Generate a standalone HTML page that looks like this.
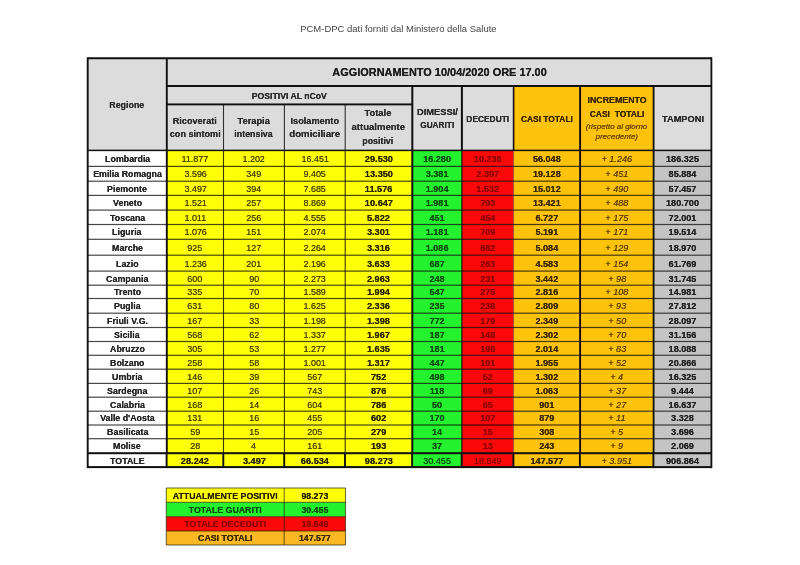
<!DOCTYPE html>
<html><head><meta charset="utf-8"><title>PCM-DPC</title>
<style>
html,body{margin:0;padding:0;background:#fff;}
body{width:800px;height:565px;position:relative;overflow:hidden;font-family:"Liberation Sans",sans-serif;}
svg{position:absolute;left:0;top:0;}
#tx{position:absolute;left:0;top:0;width:800px;height:565px;will-change:transform;}
.x{position:absolute;height:14.0px;line-height:14.0px;text-align:center;white-space:nowrap;}
.x span{display:inline-block;text-shadow:0 0 .6px currentColor;}
.h{font-size:9.0px;font-weight:bold;font-style:normal;color:#2a2a2a;}
.hu{font-size:8.4px;font-weight:bold;font-style:normal;color:#2a2a2a;}
.ttl{font-size:11.7px;font-weight:bold;font-style:normal;color:#1c1c1c;}
.hs{font-size:7.4px;font-weight:normal;font-style:italic;color:#6a4600;}
.rg{font-size:8.9px;font-weight:bold;font-style:normal;color:#262626;}
.n{font-size:9.3px;font-weight:normal;font-style:normal;color:#4c4806;}
.nb{font-size:9.1px;font-weight:bold;font-style:normal;color:#2b2800;}
.g{font-size:9.1px;font-weight:bold;font-style:normal;color:#0c4f10;}
.r{font-size:9.1px;font-weight:bold;font-style:normal;color:#8e0505;}
.o{font-size:9.1px;font-weight:bold;font-style:normal;color:#3a2800;}
.i{font-size:9.4px;font-weight:normal;font-style:italic;color:#5e4004;}
.t{font-size:9.1px;font-weight:bold;font-style:normal;color:#222;}
.s{font-size:8.8px;font-weight:bold;font-style:normal;color:#222;}
.pt{font-size:9.3px;font-weight:normal;font-style:normal;color:#444;}
.ho{color:#3a2600;}
.nw{font-weight:normal;}
.pt span{text-shadow:none;}
.sy{color:#2b2800;} .sg{color:#0c4f10;} .sr{color:#8e0505;} .so{color:#3a2800;}
</style></head><body>
<svg width="800" height="565" viewBox="0 0 800 565">
<rect x="87.70" y="58.25" width="623.70" height="92.15" fill="#dcdcdc"/>
<rect x="513.60" y="86.00" width="140.00" height="64.40" fill="#fdc20a"/>
<rect x="87.70" y="150.40" width="79.10" height="16.00" fill="#ffffff"/>
<rect x="166.80" y="150.40" width="56.70" height="16.00" fill="#ffff08"/>
<rect x="223.50" y="150.40" width="60.90" height="16.00" fill="#ffff08"/>
<rect x="284.40" y="150.40" width="60.80" height="16.00" fill="#ffff08"/>
<rect x="345.20" y="150.40" width="67.10" height="16.00" fill="#ffff08"/>
<rect x="412.30" y="150.40" width="49.60" height="16.00" fill="#24f22e"/>
<rect x="461.90" y="150.40" width="51.70" height="16.00" fill="#fb0808"/>
<rect x="513.60" y="150.40" width="66.50" height="16.00" fill="#fdc20a"/>
<rect x="580.10" y="150.40" width="73.50" height="16.00" fill="#fdc20a"/>
<rect x="653.60" y="150.40" width="57.80" height="16.00" fill="#c4c4c4"/>
<rect x="87.70" y="166.40" width="79.10" height="14.80" fill="#ffffff"/>
<rect x="166.80" y="166.40" width="56.70" height="14.80" fill="#ffff08"/>
<rect x="223.50" y="166.40" width="60.90" height="14.80" fill="#ffff08"/>
<rect x="284.40" y="166.40" width="60.80" height="14.80" fill="#ffff08"/>
<rect x="345.20" y="166.40" width="67.10" height="14.80" fill="#ffff08"/>
<rect x="412.30" y="166.40" width="49.60" height="14.80" fill="#24f22e"/>
<rect x="461.90" y="166.40" width="51.70" height="14.80" fill="#fb0808"/>
<rect x="513.60" y="166.40" width="66.50" height="14.80" fill="#fdc20a"/>
<rect x="580.10" y="166.40" width="73.50" height="14.80" fill="#fdc20a"/>
<rect x="653.60" y="166.40" width="57.80" height="14.80" fill="#c4c4c4"/>
<rect x="87.70" y="181.20" width="79.10" height="14.20" fill="#ffffff"/>
<rect x="166.80" y="181.20" width="56.70" height="14.20" fill="#ffff08"/>
<rect x="223.50" y="181.20" width="60.90" height="14.20" fill="#ffff08"/>
<rect x="284.40" y="181.20" width="60.80" height="14.20" fill="#ffff08"/>
<rect x="345.20" y="181.20" width="67.10" height="14.20" fill="#ffff08"/>
<rect x="412.30" y="181.20" width="49.60" height="14.20" fill="#24f22e"/>
<rect x="461.90" y="181.20" width="51.70" height="14.20" fill="#fb0808"/>
<rect x="513.60" y="181.20" width="66.50" height="14.20" fill="#fdc20a"/>
<rect x="580.10" y="181.20" width="73.50" height="14.20" fill="#fdc20a"/>
<rect x="653.60" y="181.20" width="57.80" height="14.20" fill="#c4c4c4"/>
<rect x="87.70" y="195.40" width="79.10" height="14.70" fill="#ffffff"/>
<rect x="166.80" y="195.40" width="56.70" height="14.70" fill="#ffff08"/>
<rect x="223.50" y="195.40" width="60.90" height="14.70" fill="#ffff08"/>
<rect x="284.40" y="195.40" width="60.80" height="14.70" fill="#ffff08"/>
<rect x="345.20" y="195.40" width="67.10" height="14.70" fill="#ffff08"/>
<rect x="412.30" y="195.40" width="49.60" height="14.70" fill="#24f22e"/>
<rect x="461.90" y="195.40" width="51.70" height="14.70" fill="#fb0808"/>
<rect x="513.60" y="195.40" width="66.50" height="14.70" fill="#fdc20a"/>
<rect x="580.10" y="195.40" width="73.50" height="14.70" fill="#fdc20a"/>
<rect x="653.60" y="195.40" width="57.80" height="14.70" fill="#c4c4c4"/>
<rect x="87.70" y="210.10" width="79.10" height="14.40" fill="#ffffff"/>
<rect x="166.80" y="210.10" width="56.70" height="14.40" fill="#ffff08"/>
<rect x="223.50" y="210.10" width="60.90" height="14.40" fill="#ffff08"/>
<rect x="284.40" y="210.10" width="60.80" height="14.40" fill="#ffff08"/>
<rect x="345.20" y="210.10" width="67.10" height="14.40" fill="#ffff08"/>
<rect x="412.30" y="210.10" width="49.60" height="14.40" fill="#24f22e"/>
<rect x="461.90" y="210.10" width="51.70" height="14.40" fill="#fb0808"/>
<rect x="513.60" y="210.10" width="66.50" height="14.40" fill="#fdc20a"/>
<rect x="580.10" y="210.10" width="73.50" height="14.40" fill="#fdc20a"/>
<rect x="653.60" y="210.10" width="57.80" height="14.40" fill="#c4c4c4"/>
<rect x="87.70" y="224.50" width="79.10" height="14.80" fill="#ffffff"/>
<rect x="166.80" y="224.50" width="56.70" height="14.80" fill="#ffff08"/>
<rect x="223.50" y="224.50" width="60.90" height="14.80" fill="#ffff08"/>
<rect x="284.40" y="224.50" width="60.80" height="14.80" fill="#ffff08"/>
<rect x="345.20" y="224.50" width="67.10" height="14.80" fill="#ffff08"/>
<rect x="412.30" y="224.50" width="49.60" height="14.80" fill="#24f22e"/>
<rect x="461.90" y="224.50" width="51.70" height="14.80" fill="#fb0808"/>
<rect x="513.60" y="224.50" width="66.50" height="14.80" fill="#fdc20a"/>
<rect x="580.10" y="224.50" width="73.50" height="14.80" fill="#fdc20a"/>
<rect x="653.60" y="224.50" width="57.80" height="14.80" fill="#c4c4c4"/>
<rect x="87.70" y="239.30" width="79.10" height="15.90" fill="#ffffff"/>
<rect x="166.80" y="239.30" width="56.70" height="15.90" fill="#ffff08"/>
<rect x="223.50" y="239.30" width="60.90" height="15.90" fill="#ffff08"/>
<rect x="284.40" y="239.30" width="60.80" height="15.90" fill="#ffff08"/>
<rect x="345.20" y="239.30" width="67.10" height="15.90" fill="#ffff08"/>
<rect x="412.30" y="239.30" width="49.60" height="15.90" fill="#24f22e"/>
<rect x="461.90" y="239.30" width="51.70" height="15.90" fill="#fb0808"/>
<rect x="513.60" y="239.30" width="66.50" height="15.90" fill="#fdc20a"/>
<rect x="580.10" y="239.30" width="73.50" height="15.90" fill="#fdc20a"/>
<rect x="653.60" y="239.30" width="57.80" height="15.90" fill="#c4c4c4"/>
<rect x="87.70" y="255.20" width="79.10" height="15.90" fill="#ffffff"/>
<rect x="166.80" y="255.20" width="56.70" height="15.90" fill="#ffff08"/>
<rect x="223.50" y="255.20" width="60.90" height="15.90" fill="#ffff08"/>
<rect x="284.40" y="255.20" width="60.80" height="15.90" fill="#ffff08"/>
<rect x="345.20" y="255.20" width="67.10" height="15.90" fill="#ffff08"/>
<rect x="412.30" y="255.20" width="49.60" height="15.90" fill="#24f22e"/>
<rect x="461.90" y="255.20" width="51.70" height="15.90" fill="#fb0808"/>
<rect x="513.60" y="255.20" width="66.50" height="15.90" fill="#fdc20a"/>
<rect x="580.10" y="255.20" width="73.50" height="15.90" fill="#fdc20a"/>
<rect x="653.60" y="255.20" width="57.80" height="15.90" fill="#c4c4c4"/>
<rect x="87.70" y="271.10" width="79.10" height="14.10" fill="#ffffff"/>
<rect x="166.80" y="271.10" width="56.70" height="14.10" fill="#ffff08"/>
<rect x="223.50" y="271.10" width="60.90" height="14.10" fill="#ffff08"/>
<rect x="284.40" y="271.10" width="60.80" height="14.10" fill="#ffff08"/>
<rect x="345.20" y="271.10" width="67.10" height="14.10" fill="#ffff08"/>
<rect x="412.30" y="271.10" width="49.60" height="14.10" fill="#24f22e"/>
<rect x="461.90" y="271.10" width="51.70" height="14.10" fill="#fb0808"/>
<rect x="513.60" y="271.10" width="66.50" height="14.10" fill="#fdc20a"/>
<rect x="580.10" y="271.10" width="73.50" height="14.10" fill="#fdc20a"/>
<rect x="653.60" y="271.10" width="57.80" height="14.10" fill="#c4c4c4"/>
<rect x="87.70" y="285.20" width="79.10" height="13.30" fill="#ffffff"/>
<rect x="166.80" y="285.20" width="56.70" height="13.30" fill="#ffff08"/>
<rect x="223.50" y="285.20" width="60.90" height="13.30" fill="#ffff08"/>
<rect x="284.40" y="285.20" width="60.80" height="13.30" fill="#ffff08"/>
<rect x="345.20" y="285.20" width="67.10" height="13.30" fill="#ffff08"/>
<rect x="412.30" y="285.20" width="49.60" height="13.30" fill="#24f22e"/>
<rect x="461.90" y="285.20" width="51.70" height="13.30" fill="#fb0808"/>
<rect x="513.60" y="285.20" width="66.50" height="13.30" fill="#fdc20a"/>
<rect x="580.10" y="285.20" width="73.50" height="13.30" fill="#fdc20a"/>
<rect x="653.60" y="285.20" width="57.80" height="13.30" fill="#c4c4c4"/>
<rect x="87.70" y="298.50" width="79.10" height="14.70" fill="#ffffff"/>
<rect x="166.80" y="298.50" width="56.70" height="14.70" fill="#ffff08"/>
<rect x="223.50" y="298.50" width="60.90" height="14.70" fill="#ffff08"/>
<rect x="284.40" y="298.50" width="60.80" height="14.70" fill="#ffff08"/>
<rect x="345.20" y="298.50" width="67.10" height="14.70" fill="#ffff08"/>
<rect x="412.30" y="298.50" width="49.60" height="14.70" fill="#24f22e"/>
<rect x="461.90" y="298.50" width="51.70" height="14.70" fill="#fb0808"/>
<rect x="513.60" y="298.50" width="66.50" height="14.70" fill="#fdc20a"/>
<rect x="580.10" y="298.50" width="73.50" height="14.70" fill="#fdc20a"/>
<rect x="653.60" y="298.50" width="57.80" height="14.70" fill="#c4c4c4"/>
<rect x="87.70" y="313.20" width="79.10" height="14.30" fill="#ffffff"/>
<rect x="166.80" y="313.20" width="56.70" height="14.30" fill="#ffff08"/>
<rect x="223.50" y="313.20" width="60.90" height="14.30" fill="#ffff08"/>
<rect x="284.40" y="313.20" width="60.80" height="14.30" fill="#ffff08"/>
<rect x="345.20" y="313.20" width="67.10" height="14.30" fill="#ffff08"/>
<rect x="412.30" y="313.20" width="49.60" height="14.30" fill="#24f22e"/>
<rect x="461.90" y="313.20" width="51.70" height="14.30" fill="#fb0808"/>
<rect x="513.60" y="313.20" width="66.50" height="14.30" fill="#fdc20a"/>
<rect x="580.10" y="313.20" width="73.50" height="14.30" fill="#fdc20a"/>
<rect x="653.60" y="313.20" width="57.80" height="14.30" fill="#c4c4c4"/>
<rect x="87.70" y="327.50" width="79.10" height="14.00" fill="#ffffff"/>
<rect x="166.80" y="327.50" width="56.70" height="14.00" fill="#ffff08"/>
<rect x="223.50" y="327.50" width="60.90" height="14.00" fill="#ffff08"/>
<rect x="284.40" y="327.50" width="60.80" height="14.00" fill="#ffff08"/>
<rect x="345.20" y="327.50" width="67.10" height="14.00" fill="#ffff08"/>
<rect x="412.30" y="327.50" width="49.60" height="14.00" fill="#24f22e"/>
<rect x="461.90" y="327.50" width="51.70" height="14.00" fill="#fb0808"/>
<rect x="513.60" y="327.50" width="66.50" height="14.00" fill="#fdc20a"/>
<rect x="580.10" y="327.50" width="73.50" height="14.00" fill="#fdc20a"/>
<rect x="653.60" y="327.50" width="57.80" height="14.00" fill="#c4c4c4"/>
<rect x="87.70" y="341.50" width="79.10" height="13.80" fill="#ffffff"/>
<rect x="166.80" y="341.50" width="56.70" height="13.80" fill="#ffff08"/>
<rect x="223.50" y="341.50" width="60.90" height="13.80" fill="#ffff08"/>
<rect x="284.40" y="341.50" width="60.80" height="13.80" fill="#ffff08"/>
<rect x="345.20" y="341.50" width="67.10" height="13.80" fill="#ffff08"/>
<rect x="412.30" y="341.50" width="49.60" height="13.80" fill="#24f22e"/>
<rect x="461.90" y="341.50" width="51.70" height="13.80" fill="#fb0808"/>
<rect x="513.60" y="341.50" width="66.50" height="13.80" fill="#fdc20a"/>
<rect x="580.10" y="341.50" width="73.50" height="13.80" fill="#fdc20a"/>
<rect x="653.60" y="341.50" width="57.80" height="13.80" fill="#c4c4c4"/>
<rect x="87.70" y="355.30" width="79.10" height="13.90" fill="#ffffff"/>
<rect x="166.80" y="355.30" width="56.70" height="13.90" fill="#ffff08"/>
<rect x="223.50" y="355.30" width="60.90" height="13.90" fill="#ffff08"/>
<rect x="284.40" y="355.30" width="60.80" height="13.90" fill="#ffff08"/>
<rect x="345.20" y="355.30" width="67.10" height="13.90" fill="#ffff08"/>
<rect x="412.30" y="355.30" width="49.60" height="13.90" fill="#24f22e"/>
<rect x="461.90" y="355.30" width="51.70" height="13.90" fill="#fb0808"/>
<rect x="513.60" y="355.30" width="66.50" height="13.90" fill="#fdc20a"/>
<rect x="580.10" y="355.30" width="73.50" height="13.90" fill="#fdc20a"/>
<rect x="653.60" y="355.30" width="57.80" height="13.90" fill="#c4c4c4"/>
<rect x="87.70" y="369.20" width="79.10" height="14.20" fill="#ffffff"/>
<rect x="166.80" y="369.20" width="56.70" height="14.20" fill="#ffff08"/>
<rect x="223.50" y="369.20" width="60.90" height="14.20" fill="#ffff08"/>
<rect x="284.40" y="369.20" width="60.80" height="14.20" fill="#ffff08"/>
<rect x="345.20" y="369.20" width="67.10" height="14.20" fill="#ffff08"/>
<rect x="412.30" y="369.20" width="49.60" height="14.20" fill="#24f22e"/>
<rect x="461.90" y="369.20" width="51.70" height="14.20" fill="#fb0808"/>
<rect x="513.60" y="369.20" width="66.50" height="14.20" fill="#fdc20a"/>
<rect x="580.10" y="369.20" width="73.50" height="14.20" fill="#fdc20a"/>
<rect x="653.60" y="369.20" width="57.80" height="14.20" fill="#c4c4c4"/>
<rect x="87.70" y="383.40" width="79.10" height="13.80" fill="#ffffff"/>
<rect x="166.80" y="383.40" width="56.70" height="13.80" fill="#ffff08"/>
<rect x="223.50" y="383.40" width="60.90" height="13.80" fill="#ffff08"/>
<rect x="284.40" y="383.40" width="60.80" height="13.80" fill="#ffff08"/>
<rect x="345.20" y="383.40" width="67.10" height="13.80" fill="#ffff08"/>
<rect x="412.30" y="383.40" width="49.60" height="13.80" fill="#24f22e"/>
<rect x="461.90" y="383.40" width="51.70" height="13.80" fill="#fb0808"/>
<rect x="513.60" y="383.40" width="66.50" height="13.80" fill="#fdc20a"/>
<rect x="580.10" y="383.40" width="73.50" height="13.80" fill="#fdc20a"/>
<rect x="653.60" y="383.40" width="57.80" height="13.80" fill="#c4c4c4"/>
<rect x="87.70" y="397.20" width="79.10" height="14.00" fill="#ffffff"/>
<rect x="166.80" y="397.20" width="56.70" height="14.00" fill="#ffff08"/>
<rect x="223.50" y="397.20" width="60.90" height="14.00" fill="#ffff08"/>
<rect x="284.40" y="397.20" width="60.80" height="14.00" fill="#ffff08"/>
<rect x="345.20" y="397.20" width="67.10" height="14.00" fill="#ffff08"/>
<rect x="412.30" y="397.20" width="49.60" height="14.00" fill="#24f22e"/>
<rect x="461.90" y="397.20" width="51.70" height="14.00" fill="#fb0808"/>
<rect x="513.60" y="397.20" width="66.50" height="14.00" fill="#fdc20a"/>
<rect x="580.10" y="397.20" width="73.50" height="14.00" fill="#fdc20a"/>
<rect x="653.60" y="397.20" width="57.80" height="14.00" fill="#c4c4c4"/>
<rect x="87.70" y="411.20" width="79.10" height="13.80" fill="#ffffff"/>
<rect x="166.80" y="411.20" width="56.70" height="13.80" fill="#ffff08"/>
<rect x="223.50" y="411.20" width="60.90" height="13.80" fill="#ffff08"/>
<rect x="284.40" y="411.20" width="60.80" height="13.80" fill="#ffff08"/>
<rect x="345.20" y="411.20" width="67.10" height="13.80" fill="#ffff08"/>
<rect x="412.30" y="411.20" width="49.60" height="13.80" fill="#24f22e"/>
<rect x="461.90" y="411.20" width="51.70" height="13.80" fill="#fb0808"/>
<rect x="513.60" y="411.20" width="66.50" height="13.80" fill="#fdc20a"/>
<rect x="580.10" y="411.20" width="73.50" height="13.80" fill="#fdc20a"/>
<rect x="653.60" y="411.20" width="57.80" height="13.80" fill="#c4c4c4"/>
<rect x="87.70" y="425.00" width="79.10" height="13.70" fill="#ffffff"/>
<rect x="166.80" y="425.00" width="56.70" height="13.70" fill="#ffff08"/>
<rect x="223.50" y="425.00" width="60.90" height="13.70" fill="#ffff08"/>
<rect x="284.40" y="425.00" width="60.80" height="13.70" fill="#ffff08"/>
<rect x="345.20" y="425.00" width="67.10" height="13.70" fill="#ffff08"/>
<rect x="412.30" y="425.00" width="49.60" height="13.70" fill="#24f22e"/>
<rect x="461.90" y="425.00" width="51.70" height="13.70" fill="#fb0808"/>
<rect x="513.60" y="425.00" width="66.50" height="13.70" fill="#fdc20a"/>
<rect x="580.10" y="425.00" width="73.50" height="13.70" fill="#fdc20a"/>
<rect x="653.60" y="425.00" width="57.80" height="13.70" fill="#c4c4c4"/>
<rect x="87.70" y="438.70" width="79.10" height="14.50" fill="#ffffff"/>
<rect x="166.80" y="438.70" width="56.70" height="14.50" fill="#ffff08"/>
<rect x="223.50" y="438.70" width="60.90" height="14.50" fill="#ffff08"/>
<rect x="284.40" y="438.70" width="60.80" height="14.50" fill="#ffff08"/>
<rect x="345.20" y="438.70" width="67.10" height="14.50" fill="#ffff08"/>
<rect x="412.30" y="438.70" width="49.60" height="14.50" fill="#24f22e"/>
<rect x="461.90" y="438.70" width="51.70" height="14.50" fill="#fb0808"/>
<rect x="513.60" y="438.70" width="66.50" height="14.50" fill="#fdc20a"/>
<rect x="580.10" y="438.70" width="73.50" height="14.50" fill="#fdc20a"/>
<rect x="653.60" y="438.70" width="57.80" height="14.50" fill="#c4c4c4"/>
<rect x="87.70" y="453.20" width="79.10" height="13.90" fill="#ffffff"/>
<rect x="166.80" y="453.20" width="56.70" height="13.90" fill="#ffff08"/>
<rect x="223.50" y="453.20" width="60.90" height="13.90" fill="#ffff08"/>
<rect x="284.40" y="453.20" width="60.80" height="13.90" fill="#ffff08"/>
<rect x="345.20" y="453.20" width="67.10" height="13.90" fill="#ffff08"/>
<rect x="412.30" y="453.20" width="49.60" height="13.90" fill="#24f22e"/>
<rect x="461.90" y="453.20" width="51.70" height="13.90" fill="#fb0808"/>
<rect x="513.60" y="453.20" width="66.50" height="13.90" fill="#fdc20a"/>
<rect x="580.10" y="453.20" width="73.50" height="13.90" fill="#fdc20a"/>
<rect x="653.60" y="453.20" width="57.80" height="13.90" fill="#c4c4c4"/>
<rect x="87.70" y="165.80" width="623.70" height="1.20" fill="#000" fill-opacity="0.72"/>
<rect x="87.70" y="180.60" width="623.70" height="1.20" fill="#000" fill-opacity="0.72"/>
<rect x="87.70" y="194.80" width="623.70" height="1.20" fill="#000" fill-opacity="0.72"/>
<rect x="87.70" y="209.50" width="623.70" height="1.20" fill="#000" fill-opacity="0.72"/>
<rect x="87.70" y="223.90" width="623.70" height="1.20" fill="#000" fill-opacity="0.72"/>
<rect x="87.70" y="238.70" width="623.70" height="1.20" fill="#000" fill-opacity="0.72"/>
<rect x="87.70" y="254.60" width="623.70" height="1.20" fill="#000" fill-opacity="0.72"/>
<rect x="87.70" y="270.50" width="623.70" height="1.20" fill="#000" fill-opacity="0.72"/>
<rect x="87.70" y="284.60" width="623.70" height="1.20" fill="#000" fill-opacity="0.72"/>
<rect x="87.70" y="297.90" width="623.70" height="1.20" fill="#000" fill-opacity="0.72"/>
<rect x="87.70" y="312.60" width="623.70" height="1.20" fill="#000" fill-opacity="0.72"/>
<rect x="87.70" y="326.90" width="623.70" height="1.20" fill="#000" fill-opacity="0.72"/>
<rect x="87.70" y="340.90" width="623.70" height="1.20" fill="#000" fill-opacity="0.72"/>
<rect x="87.70" y="354.70" width="623.70" height="1.20" fill="#000" fill-opacity="0.72"/>
<rect x="87.70" y="368.60" width="623.70" height="1.20" fill="#000" fill-opacity="0.72"/>
<rect x="87.70" y="382.80" width="623.70" height="1.20" fill="#000" fill-opacity="0.72"/>
<rect x="87.70" y="396.60" width="623.70" height="1.20" fill="#000" fill-opacity="0.72"/>
<rect x="87.70" y="410.60" width="623.70" height="1.20" fill="#000" fill-opacity="0.72"/>
<rect x="87.70" y="424.40" width="623.70" height="1.20" fill="#000" fill-opacity="0.72"/>
<rect x="87.70" y="438.10" width="623.70" height="1.20" fill="#000" fill-opacity="0.72"/>
<rect x="222.95" y="104.40" width="1.10" height="348.80" fill="#000" fill-opacity="0.78"/>
<rect x="283.85" y="104.40" width="1.10" height="348.80" fill="#000" fill-opacity="0.78"/>
<rect x="344.65" y="104.40" width="1.10" height="348.80" fill="#000" fill-opacity="0.78"/>
<rect x="460.90" y="86.00" width="2.00" height="64.40" fill="#101010"/>
<rect x="461.25" y="150.40" width="1.30" height="302.80" fill="#000" fill-opacity="0.8"/>
<rect x="512.80" y="86.00" width="1.60" height="64.40" fill="#101010"/>
<rect x="513.15" y="150.40" width="0.90" height="302.80" fill="#300" fill-opacity="0.45"/>
<rect x="579.15" y="86.00" width="1.90" height="367.20" fill="#1a0a20"/>
<rect x="652.70" y="86.00" width="1.80" height="367.20" fill="#101010"/>
<rect x="165.85" y="58.25" width="1.90" height="394.95" fill="#101010"/>
<rect x="411.30" y="86.00" width="2.00" height="367.20" fill="#101010"/>
<rect x="87.70" y="57.25" width="623.70" height="2.00" fill="#101010"/>
<rect x="166.80" y="85.00" width="544.60" height="2.00" fill="#101010"/>
<rect x="166.80" y="103.45" width="245.50" height="1.90" fill="#101010"/>
<rect x="87.70" y="149.65" width="623.70" height="1.50" fill="#101010"/>
<rect x="87.70" y="452.20" width="623.70" height="2.00" fill="#101010"/>
<rect x="87.70" y="466.10" width="623.70" height="2.00" fill="#101010"/>
<rect x="86.75" y="57.25" width="1.90" height="410.85" fill="#101010"/>
<rect x="710.50" y="57.25" width="1.80" height="410.85" fill="#101010"/>
<rect x="165.65" y="453.20" width="1.90" height="13.90" fill="#101010"/>
<rect x="222.35" y="453.20" width="1.90" height="13.90" fill="#101010"/>
<rect x="283.25" y="453.20" width="1.90" height="13.90" fill="#101010"/>
<rect x="344.05" y="453.20" width="1.90" height="13.90" fill="#101010"/>
<rect x="411.15" y="453.20" width="1.90" height="13.90" fill="#101010"/>
<rect x="460.75" y="453.20" width="1.90" height="13.90" fill="#101010"/>
<rect x="512.45" y="453.20" width="1.90" height="13.90" fill="#101010"/>
<rect x="578.95" y="453.20" width="1.90" height="13.90" fill="#101010"/>
<rect x="652.45" y="453.20" width="1.90" height="13.90" fill="#101010"/>
<rect x="166.30" y="488.00" width="179.20" height="14.30" fill="#ffff08"/>
<rect x="166.30" y="502.30" width="179.20" height="14.40" fill="#24f22e"/>
<rect x="166.30" y="516.70" width="179.20" height="14.30" fill="#fb0808"/>
<rect x="166.30" y="531.00" width="179.20" height="14.00" fill="#f9b824"/>
<rect x="166.30" y="487.45" width="179.20" height="1.10" fill="#221a00" fill-opacity="0.62"/>
<rect x="166.30" y="501.75" width="179.20" height="1.10" fill="#221a00" fill-opacity="0.62"/>
<rect x="166.30" y="516.15" width="179.20" height="1.10" fill="#221a00" fill-opacity="0.62"/>
<rect x="166.30" y="530.45" width="179.20" height="1.10" fill="#221a00" fill-opacity="0.62"/>
<rect x="166.30" y="544.45" width="179.20" height="1.10" fill="#221a00" fill-opacity="0.62"/>
<rect x="165.75" y="488.00" width="1.10" height="57.00" fill="#221a00" fill-opacity="0.62"/>
<rect x="283.65" y="488.00" width="1.10" height="57.00" fill="#221a00" fill-opacity="0.62"/>
<rect x="344.95" y="488.00" width="1.10" height="57.00" fill="#221a00" fill-opacity="0.62"/>
</svg>
<div id="tx">
<div class="x h" style="left:67.25px;top:98.10px;width:120px"><span style="transform:scaleX(0.985)">Regione</span></div>
<div class="x ttl" style="left:289.80px;top:65.03px;width:300px"><span style="transform:scaleX(0.936)">AGGIORNAMENTO 10/04/2020 ORE 17.00</span></div>
<div class="x hu" style="left:229.55px;top:88.50px;width:120px"><span style="transform:scaleX(1.036)">POSITIVI AL nCoV</span></div>
<div class="x h" style="left:135.15px;top:113.70px;width:120px"><span style="transform:scaleX(1.013)">Ricoverati</span></div>
<div class="x h" style="left:135.15px;top:127.20px;width:120px"><span style="transform:scaleX(1.008)">con sintomi</span></div>
<div class="x h" style="left:193.95px;top:113.70px;width:120px"><span style="transform:scaleX(1.033)">Terapia</span></div>
<div class="x h" style="left:193.95px;top:127.20px;width:120px"><span style="transform:scaleX(0.982)">intensiva</span></div>
<div class="x h" style="left:254.80px;top:113.70px;width:120px"><span style="transform:scaleX(1.023)">Isolamento</span></div>
<div class="x h" style="left:254.80px;top:127.20px;width:120px"><span style="transform:scaleX(1.071)">domiciliare</span></div>
<div class="x h" style="left:318.25px;top:105.70px;width:120px"><span style="transform:scaleX(1.045)">Totale</span></div>
<div class="x h" style="left:318.25px;top:120.40px;width:120px"><span style="transform:scaleX(1.061)">attualmente</span></div>
<div class="x h" style="left:318.25px;top:134.00px;width:120px"><span style="transform:scaleX(0.984)">positivi</span></div>
<div class="x hu" style="left:377.10px;top:104.70px;width:120px"><span style="transform:scaleX(1.115)">DIMESSI/</span></div>
<div class="x hu" style="left:377.10px;top:118.30px;width:120px"><span style="transform:scaleX(0.987)">GUARITI</span></div>
<div class="x hu" style="left:427.75px;top:111.50px;width:120px"><span style="transform:scaleX(1.000)">DECEDUTI</span></div>
<div class="x hu ho" style="left:486.85px;top:111.50px;width:120px"><span style="transform:scaleX(1.004)">CASI TOTALI</span></div>
<div class="x hu ho" style="left:556.85px;top:93.20px;width:120px"><span style="transform:scaleX(1.051)">INCREMENTO</span></div>
<div class="x hu ho" style="left:556.85px;top:106.90px;width:120px"><span style="transform:scaleX(1.012)">CASI&nbsp; TOTALI</span></div>
<div class="x hs" style="left:556.85px;top:119.99px;width:120px"><span style="transform:scaleX(1.077)">(rispetto al giorno</span></div>
<div class="x hs" style="left:556.85px;top:130.49px;width:120px"><span style="transform:scaleX(1.077)">precedente)</span></div>
<div class="x hu" style="left:622.50px;top:111.50px;width:120px"><span style="transform:scaleX(1.105)">TAMPONI</span></div>
<div class="x rg" style="left:67.25px;top:151.75px;width:120px"><span style="transform:scaleX(0.995)">Lombardia</span></div>
<div class="x n" style="left:135.15px;top:151.76px;width:120px"><span style="transform:scaleX(0.965)">11.877</span></div>
<div class="x n" style="left:193.95px;top:151.76px;width:120px"><span style="transform:scaleX(0.965)">1.202</span></div>
<div class="x n" style="left:254.80px;top:151.76px;width:120px"><span style="transform:scaleX(0.965)">16.451</span></div>
<div class="x nb" style="left:318.75px;top:151.75px;width:120px"><span style="transform:scaleX(1.010)">29.530</span></div>
<div class="x g" style="left:377.10px;top:151.75px;width:120px"><span style="transform:scaleX(1.000)">16.280</span></div>
<div class="x r" style="left:427.75px;top:151.75px;width:120px"><span style="transform:scaleX(1.000)">10.238</span></div>
<div class="x o" style="left:486.85px;top:151.75px;width:120px"><span style="transform:scaleX(1.000)">56.048</span></div>
<div class="x i" style="left:556.85px;top:151.76px;width:120px"><span style="transform:scaleX(0.970)">+ 1.246</span></div>
<div class="x t" style="left:622.50px;top:151.75px;width:120px"><span style="transform:scaleX(1.000)">186.325</span></div>
<div class="x rg" style="left:67.25px;top:167.15px;width:120px"><span style="transform:scaleX(0.995)">Emilia Romagna</span></div>
<div class="x n" style="left:135.15px;top:167.16px;width:120px"><span style="transform:scaleX(0.965)">3.596</span></div>
<div class="x n" style="left:193.95px;top:167.16px;width:120px"><span style="transform:scaleX(0.965)">349</span></div>
<div class="x n" style="left:254.80px;top:167.16px;width:120px"><span style="transform:scaleX(0.965)">9.405</span></div>
<div class="x nb" style="left:318.75px;top:167.15px;width:120px"><span style="transform:scaleX(1.010)">13.350</span></div>
<div class="x g" style="left:377.10px;top:167.15px;width:120px"><span style="transform:scaleX(1.000)">3.381</span></div>
<div class="x r" style="left:427.75px;top:167.15px;width:120px"><span style="transform:scaleX(1.000)">2.397</span></div>
<div class="x o" style="left:486.85px;top:167.15px;width:120px"><span style="transform:scaleX(1.000)">19.128</span></div>
<div class="x i" style="left:556.85px;top:167.16px;width:120px"><span style="transform:scaleX(0.970)">+ 451</span></div>
<div class="x t" style="left:622.50px;top:167.15px;width:120px"><span style="transform:scaleX(1.000)">85.884</span></div>
<div class="x rg" style="left:67.25px;top:181.65px;width:120px"><span style="transform:scaleX(0.995)">Piemonte</span></div>
<div class="x n" style="left:135.15px;top:181.66px;width:120px"><span style="transform:scaleX(0.965)">3.497</span></div>
<div class="x n" style="left:193.95px;top:181.66px;width:120px"><span style="transform:scaleX(0.965)">394</span></div>
<div class="x n" style="left:254.80px;top:181.66px;width:120px"><span style="transform:scaleX(0.965)">7.685</span></div>
<div class="x nb" style="left:318.75px;top:181.65px;width:120px"><span style="transform:scaleX(1.010)">11.576</span></div>
<div class="x g" style="left:377.10px;top:181.65px;width:120px"><span style="transform:scaleX(1.000)">1.904</span></div>
<div class="x r" style="left:427.75px;top:181.65px;width:120px"><span style="transform:scaleX(1.000)">1.532</span></div>
<div class="x o" style="left:486.85px;top:181.65px;width:120px"><span style="transform:scaleX(1.000)">15.012</span></div>
<div class="x i" style="left:556.85px;top:181.66px;width:120px"><span style="transform:scaleX(0.970)">+ 490</span></div>
<div class="x t" style="left:622.50px;top:181.65px;width:120px"><span style="transform:scaleX(1.000)">57.457</span></div>
<div class="x rg" style="left:67.25px;top:196.10px;width:120px"><span style="transform:scaleX(0.995)">Veneto</span></div>
<div class="x n" style="left:135.15px;top:196.11px;width:120px"><span style="transform:scaleX(0.965)">1.521</span></div>
<div class="x n" style="left:193.95px;top:196.11px;width:120px"><span style="transform:scaleX(0.965)">257</span></div>
<div class="x n" style="left:254.80px;top:196.11px;width:120px"><span style="transform:scaleX(0.965)">8.869</span></div>
<div class="x nb" style="left:318.75px;top:196.10px;width:120px"><span style="transform:scaleX(1.010)">10.647</span></div>
<div class="x g" style="left:377.10px;top:196.10px;width:120px"><span style="transform:scaleX(1.000)">1.981</span></div>
<div class="x r" style="left:427.75px;top:196.10px;width:120px"><span style="transform:scaleX(1.000)">793</span></div>
<div class="x o" style="left:486.85px;top:196.10px;width:120px"><span style="transform:scaleX(1.000)">13.421</span></div>
<div class="x i" style="left:556.85px;top:196.11px;width:120px"><span style="transform:scaleX(0.970)">+ 488</span></div>
<div class="x t" style="left:622.50px;top:196.10px;width:120px"><span style="transform:scaleX(1.000)">180.700</span></div>
<div class="x rg" style="left:67.25px;top:210.65px;width:120px"><span style="transform:scaleX(0.995)">Toscana</span></div>
<div class="x n" style="left:135.15px;top:210.66px;width:120px"><span style="transform:scaleX(0.965)">1.011</span></div>
<div class="x n" style="left:193.95px;top:210.66px;width:120px"><span style="transform:scaleX(0.965)">256</span></div>
<div class="x n" style="left:254.80px;top:210.66px;width:120px"><span style="transform:scaleX(0.965)">4.555</span></div>
<div class="x nb" style="left:318.75px;top:210.65px;width:120px"><span style="transform:scaleX(1.010)">5.822</span></div>
<div class="x g" style="left:377.10px;top:210.65px;width:120px"><span style="transform:scaleX(1.000)">451</span></div>
<div class="x r" style="left:427.75px;top:210.65px;width:120px"><span style="transform:scaleX(1.000)">454</span></div>
<div class="x o" style="left:486.85px;top:210.65px;width:120px"><span style="transform:scaleX(1.000)">6.727</span></div>
<div class="x i" style="left:556.85px;top:210.66px;width:120px"><span style="transform:scaleX(0.970)">+ 175</span></div>
<div class="x t" style="left:622.50px;top:210.65px;width:120px"><span style="transform:scaleX(1.000)">72.001</span></div>
<div class="x rg" style="left:67.25px;top:225.25px;width:120px"><span style="transform:scaleX(0.995)">Liguria</span></div>
<div class="x n" style="left:135.15px;top:225.26px;width:120px"><span style="transform:scaleX(0.965)">1.076</span></div>
<div class="x n" style="left:193.95px;top:225.26px;width:120px"><span style="transform:scaleX(0.965)">151</span></div>
<div class="x n" style="left:254.80px;top:225.26px;width:120px"><span style="transform:scaleX(0.965)">2.074</span></div>
<div class="x nb" style="left:318.75px;top:225.25px;width:120px"><span style="transform:scaleX(1.010)">3.301</span></div>
<div class="x g" style="left:377.10px;top:225.25px;width:120px"><span style="transform:scaleX(1.000)">1.181</span></div>
<div class="x r" style="left:427.75px;top:225.25px;width:120px"><span style="transform:scaleX(1.000)">709</span></div>
<div class="x o" style="left:486.85px;top:225.25px;width:120px"><span style="transform:scaleX(1.000)">5.191</span></div>
<div class="x i" style="left:556.85px;top:225.26px;width:120px"><span style="transform:scaleX(0.970)">+ 171</span></div>
<div class="x t" style="left:622.50px;top:225.25px;width:120px"><span style="transform:scaleX(1.000)">19.514</span></div>
<div class="x rg" style="left:67.25px;top:240.60px;width:120px"><span style="transform:scaleX(0.995)">Marche</span></div>
<div class="x n" style="left:135.15px;top:240.61px;width:120px"><span style="transform:scaleX(0.965)">925</span></div>
<div class="x n" style="left:193.95px;top:240.61px;width:120px"><span style="transform:scaleX(0.965)">127</span></div>
<div class="x n" style="left:254.80px;top:240.61px;width:120px"><span style="transform:scaleX(0.965)">2.264</span></div>
<div class="x nb" style="left:318.75px;top:240.60px;width:120px"><span style="transform:scaleX(1.010)">3.316</span></div>
<div class="x g" style="left:377.10px;top:240.60px;width:120px"><span style="transform:scaleX(1.000)">1.086</span></div>
<div class="x r" style="left:427.75px;top:240.60px;width:120px"><span style="transform:scaleX(1.000)">682</span></div>
<div class="x o" style="left:486.85px;top:240.60px;width:120px"><span style="transform:scaleX(1.000)">5.084</span></div>
<div class="x i" style="left:556.85px;top:240.61px;width:120px"><span style="transform:scaleX(0.970)">+ 129</span></div>
<div class="x t" style="left:622.50px;top:240.60px;width:120px"><span style="transform:scaleX(1.000)">18.970</span></div>
<div class="x rg" style="left:67.25px;top:256.50px;width:120px"><span style="transform:scaleX(0.995)">Lazio</span></div>
<div class="x n" style="left:135.15px;top:256.51px;width:120px"><span style="transform:scaleX(0.965)">1.236</span></div>
<div class="x n" style="left:193.95px;top:256.51px;width:120px"><span style="transform:scaleX(0.965)">201</span></div>
<div class="x n" style="left:254.80px;top:256.51px;width:120px"><span style="transform:scaleX(0.965)">2.196</span></div>
<div class="x nb" style="left:318.75px;top:256.50px;width:120px"><span style="transform:scaleX(1.010)">3.633</span></div>
<div class="x g" style="left:377.10px;top:256.50px;width:120px"><span style="transform:scaleX(1.000)">687</span></div>
<div class="x r" style="left:427.75px;top:256.50px;width:120px"><span style="transform:scaleX(1.000)">263</span></div>
<div class="x o" style="left:486.85px;top:256.50px;width:120px"><span style="transform:scaleX(1.000)">4.583</span></div>
<div class="x i" style="left:556.85px;top:256.51px;width:120px"><span style="transform:scaleX(0.970)">+ 154</span></div>
<div class="x t" style="left:622.50px;top:256.50px;width:120px"><span style="transform:scaleX(1.000)">61.769</span></div>
<div class="x rg" style="left:67.25px;top:271.50px;width:120px"><span style="transform:scaleX(0.995)">Campania</span></div>
<div class="x n" style="left:135.15px;top:271.51px;width:120px"><span style="transform:scaleX(0.965)">600</span></div>
<div class="x n" style="left:193.95px;top:271.51px;width:120px"><span style="transform:scaleX(0.965)">90</span></div>
<div class="x n" style="left:254.80px;top:271.51px;width:120px"><span style="transform:scaleX(0.965)">2.273</span></div>
<div class="x nb" style="left:318.75px;top:271.50px;width:120px"><span style="transform:scaleX(1.010)">2.963</span></div>
<div class="x g" style="left:377.10px;top:271.50px;width:120px"><span style="transform:scaleX(1.000)">248</span></div>
<div class="x r" style="left:427.75px;top:271.50px;width:120px"><span style="transform:scaleX(1.000)">231</span></div>
<div class="x o" style="left:486.85px;top:271.50px;width:120px"><span style="transform:scaleX(1.000)">3.442</span></div>
<div class="x i" style="left:556.85px;top:271.51px;width:120px"><span style="transform:scaleX(0.970)">+ 98</span></div>
<div class="x t" style="left:622.50px;top:271.50px;width:120px"><span style="transform:scaleX(1.000)">31.745</span></div>
<div class="x rg" style="left:67.25px;top:285.20px;width:120px"><span style="transform:scaleX(0.995)">Trento</span></div>
<div class="x n" style="left:135.15px;top:285.21px;width:120px"><span style="transform:scaleX(0.965)">335</span></div>
<div class="x n" style="left:193.95px;top:285.21px;width:120px"><span style="transform:scaleX(0.965)">70</span></div>
<div class="x n" style="left:254.80px;top:285.21px;width:120px"><span style="transform:scaleX(0.965)">1.589</span></div>
<div class="x nb" style="left:318.75px;top:285.20px;width:120px"><span style="transform:scaleX(1.010)">1.994</span></div>
<div class="x g" style="left:377.10px;top:285.20px;width:120px"><span style="transform:scaleX(1.000)">547</span></div>
<div class="x r" style="left:427.75px;top:285.20px;width:120px"><span style="transform:scaleX(1.000)">275</span></div>
<div class="x o" style="left:486.85px;top:285.20px;width:120px"><span style="transform:scaleX(1.000)">2.816</span></div>
<div class="x i" style="left:556.85px;top:285.21px;width:120px"><span style="transform:scaleX(0.970)">+ 108</span></div>
<div class="x t" style="left:622.50px;top:285.20px;width:120px"><span style="transform:scaleX(1.000)">14.981</span></div>
<div class="x rg" style="left:67.25px;top:299.20px;width:120px"><span style="transform:scaleX(0.995)">Puglia</span></div>
<div class="x n" style="left:135.15px;top:299.21px;width:120px"><span style="transform:scaleX(0.965)">631</span></div>
<div class="x n" style="left:193.95px;top:299.21px;width:120px"><span style="transform:scaleX(0.965)">80</span></div>
<div class="x n" style="left:254.80px;top:299.21px;width:120px"><span style="transform:scaleX(0.965)">1.625</span></div>
<div class="x nb" style="left:318.75px;top:299.20px;width:120px"><span style="transform:scaleX(1.010)">2.336</span></div>
<div class="x g" style="left:377.10px;top:299.20px;width:120px"><span style="transform:scaleX(1.000)">235</span></div>
<div class="x r" style="left:427.75px;top:299.20px;width:120px"><span style="transform:scaleX(1.000)">238</span></div>
<div class="x o" style="left:486.85px;top:299.20px;width:120px"><span style="transform:scaleX(1.000)">2.809</span></div>
<div class="x i" style="left:556.85px;top:299.21px;width:120px"><span style="transform:scaleX(0.970)">+ 93</span></div>
<div class="x t" style="left:622.50px;top:299.20px;width:120px"><span style="transform:scaleX(1.000)">27.812</span></div>
<div class="x rg" style="left:67.25px;top:313.70px;width:120px"><span style="transform:scaleX(0.995)">Friuli V.G.</span></div>
<div class="x n" style="left:135.15px;top:313.71px;width:120px"><span style="transform:scaleX(0.965)">167</span></div>
<div class="x n" style="left:193.95px;top:313.71px;width:120px"><span style="transform:scaleX(0.965)">33</span></div>
<div class="x n" style="left:254.80px;top:313.71px;width:120px"><span style="transform:scaleX(0.965)">1.198</span></div>
<div class="x nb" style="left:318.75px;top:313.70px;width:120px"><span style="transform:scaleX(1.010)">1.398</span></div>
<div class="x g" style="left:377.10px;top:313.70px;width:120px"><span style="transform:scaleX(1.000)">772</span></div>
<div class="x r" style="left:427.75px;top:313.70px;width:120px"><span style="transform:scaleX(1.000)">179</span></div>
<div class="x o" style="left:486.85px;top:313.70px;width:120px"><span style="transform:scaleX(1.000)">2.349</span></div>
<div class="x i" style="left:556.85px;top:313.71px;width:120px"><span style="transform:scaleX(0.970)">+ 50</span></div>
<div class="x t" style="left:622.50px;top:313.70px;width:120px"><span style="transform:scaleX(1.000)">28.097</span></div>
<div class="x rg" style="left:67.25px;top:327.85px;width:120px"><span style="transform:scaleX(0.995)">Sicilia</span></div>
<div class="x n" style="left:135.15px;top:327.86px;width:120px"><span style="transform:scaleX(0.965)">568</span></div>
<div class="x n" style="left:193.95px;top:327.86px;width:120px"><span style="transform:scaleX(0.965)">62</span></div>
<div class="x n" style="left:254.80px;top:327.86px;width:120px"><span style="transform:scaleX(0.965)">1.337</span></div>
<div class="x nb" style="left:318.75px;top:327.85px;width:120px"><span style="transform:scaleX(1.010)">1.967</span></div>
<div class="x g" style="left:377.10px;top:327.85px;width:120px"><span style="transform:scaleX(1.000)">187</span></div>
<div class="x r" style="left:427.75px;top:327.85px;width:120px"><span style="transform:scaleX(1.000)">148</span></div>
<div class="x o" style="left:486.85px;top:327.85px;width:120px"><span style="transform:scaleX(1.000)">2.302</span></div>
<div class="x i" style="left:556.85px;top:327.86px;width:120px"><span style="transform:scaleX(0.970)">+ 70</span></div>
<div class="x t" style="left:622.50px;top:327.85px;width:120px"><span style="transform:scaleX(1.000)">31.156</span></div>
<div class="x rg" style="left:67.25px;top:341.75px;width:120px"><span style="transform:scaleX(0.995)">Abruzzo</span></div>
<div class="x n" style="left:135.15px;top:341.76px;width:120px"><span style="transform:scaleX(0.965)">305</span></div>
<div class="x n" style="left:193.95px;top:341.76px;width:120px"><span style="transform:scaleX(0.965)">53</span></div>
<div class="x n" style="left:254.80px;top:341.76px;width:120px"><span style="transform:scaleX(0.965)">1.277</span></div>
<div class="x nb" style="left:318.75px;top:341.75px;width:120px"><span style="transform:scaleX(1.010)">1.635</span></div>
<div class="x g" style="left:377.10px;top:341.75px;width:120px"><span style="transform:scaleX(1.000)">181</span></div>
<div class="x r" style="left:427.75px;top:341.75px;width:120px"><span style="transform:scaleX(1.000)">198</span></div>
<div class="x o" style="left:486.85px;top:341.75px;width:120px"><span style="transform:scaleX(1.000)">2.014</span></div>
<div class="x i" style="left:556.85px;top:341.76px;width:120px"><span style="transform:scaleX(0.970)">+ 83</span></div>
<div class="x t" style="left:622.50px;top:341.75px;width:120px"><span style="transform:scaleX(1.000)">18.088</span></div>
<div class="x rg" style="left:67.25px;top:355.60px;width:120px"><span style="transform:scaleX(0.995)">Bolzano</span></div>
<div class="x n" style="left:135.15px;top:355.61px;width:120px"><span style="transform:scaleX(0.965)">258</span></div>
<div class="x n" style="left:193.95px;top:355.61px;width:120px"><span style="transform:scaleX(0.965)">58</span></div>
<div class="x n" style="left:254.80px;top:355.61px;width:120px"><span style="transform:scaleX(0.965)">1.001</span></div>
<div class="x nb" style="left:318.75px;top:355.60px;width:120px"><span style="transform:scaleX(1.010)">1.317</span></div>
<div class="x g" style="left:377.10px;top:355.60px;width:120px"><span style="transform:scaleX(1.000)">447</span></div>
<div class="x r" style="left:427.75px;top:355.60px;width:120px"><span style="transform:scaleX(1.000)">191</span></div>
<div class="x o" style="left:486.85px;top:355.60px;width:120px"><span style="transform:scaleX(1.000)">1.955</span></div>
<div class="x i" style="left:556.85px;top:355.61px;width:120px"><span style="transform:scaleX(0.970)">+ 52</span></div>
<div class="x t" style="left:622.50px;top:355.60px;width:120px"><span style="transform:scaleX(1.000)">20.866</span></div>
<div class="x rg" style="left:67.25px;top:369.65px;width:120px"><span style="transform:scaleX(0.995)">Umbria</span></div>
<div class="x n" style="left:135.15px;top:369.66px;width:120px"><span style="transform:scaleX(0.965)">146</span></div>
<div class="x n" style="left:193.95px;top:369.66px;width:120px"><span style="transform:scaleX(0.965)">39</span></div>
<div class="x n" style="left:254.80px;top:369.66px;width:120px"><span style="transform:scaleX(0.965)">567</span></div>
<div class="x nb" style="left:318.75px;top:369.65px;width:120px"><span style="transform:scaleX(1.010)">752</span></div>
<div class="x g" style="left:377.10px;top:369.65px;width:120px"><span style="transform:scaleX(1.000)">498</span></div>
<div class="x r" style="left:427.75px;top:369.65px;width:120px"><span style="transform:scaleX(1.000)">52</span></div>
<div class="x o" style="left:486.85px;top:369.65px;width:120px"><span style="transform:scaleX(1.000)">1.302</span></div>
<div class="x i" style="left:556.85px;top:369.66px;width:120px"><span style="transform:scaleX(0.970)">+ 4</span></div>
<div class="x t" style="left:622.50px;top:369.65px;width:120px"><span style="transform:scaleX(1.000)">16.325</span></div>
<div class="x rg" style="left:67.25px;top:383.65px;width:120px"><span style="transform:scaleX(0.995)">Sardegna</span></div>
<div class="x n" style="left:135.15px;top:383.66px;width:120px"><span style="transform:scaleX(0.965)">107</span></div>
<div class="x n" style="left:193.95px;top:383.66px;width:120px"><span style="transform:scaleX(0.965)">26</span></div>
<div class="x n" style="left:254.80px;top:383.66px;width:120px"><span style="transform:scaleX(0.965)">743</span></div>
<div class="x nb" style="left:318.75px;top:383.65px;width:120px"><span style="transform:scaleX(1.010)">876</span></div>
<div class="x g" style="left:377.10px;top:383.65px;width:120px"><span style="transform:scaleX(1.000)">118</span></div>
<div class="x r" style="left:427.75px;top:383.65px;width:120px"><span style="transform:scaleX(1.000)">69</span></div>
<div class="x o" style="left:486.85px;top:383.65px;width:120px"><span style="transform:scaleX(1.000)">1.063</span></div>
<div class="x i" style="left:556.85px;top:383.66px;width:120px"><span style="transform:scaleX(0.970)">+ 37</span></div>
<div class="x t" style="left:622.50px;top:383.65px;width:120px"><span style="transform:scaleX(1.000)">9.444</span></div>
<div class="x rg" style="left:67.25px;top:397.55px;width:120px"><span style="transform:scaleX(0.995)">Calabria</span></div>
<div class="x n" style="left:135.15px;top:397.56px;width:120px"><span style="transform:scaleX(0.965)">168</span></div>
<div class="x n" style="left:193.95px;top:397.56px;width:120px"><span style="transform:scaleX(0.965)">14</span></div>
<div class="x n" style="left:254.80px;top:397.56px;width:120px"><span style="transform:scaleX(0.965)">604</span></div>
<div class="x nb" style="left:318.75px;top:397.55px;width:120px"><span style="transform:scaleX(1.010)">786</span></div>
<div class="x g" style="left:377.10px;top:397.55px;width:120px"><span style="transform:scaleX(1.000)">50</span></div>
<div class="x r" style="left:427.75px;top:397.55px;width:120px"><span style="transform:scaleX(1.000)">65</span></div>
<div class="x o" style="left:486.85px;top:397.55px;width:120px"><span style="transform:scaleX(1.000)">901</span></div>
<div class="x i" style="left:556.85px;top:397.56px;width:120px"><span style="transform:scaleX(0.970)">+ 27</span></div>
<div class="x t" style="left:622.50px;top:397.55px;width:120px"><span style="transform:scaleX(1.000)">16.637</span></div>
<div class="x rg" style="left:67.25px;top:411.45px;width:120px"><span style="transform:scaleX(0.995)">Valle d'Aosta</span></div>
<div class="x n" style="left:135.15px;top:411.46px;width:120px"><span style="transform:scaleX(0.965)">131</span></div>
<div class="x n" style="left:193.95px;top:411.46px;width:120px"><span style="transform:scaleX(0.965)">16</span></div>
<div class="x n" style="left:254.80px;top:411.46px;width:120px"><span style="transform:scaleX(0.965)">455</span></div>
<div class="x nb" style="left:318.75px;top:411.45px;width:120px"><span style="transform:scaleX(1.010)">602</span></div>
<div class="x g" style="left:377.10px;top:411.45px;width:120px"><span style="transform:scaleX(1.000)">170</span></div>
<div class="x r" style="left:427.75px;top:411.45px;width:120px"><span style="transform:scaleX(1.000)">107</span></div>
<div class="x o" style="left:486.85px;top:411.45px;width:120px"><span style="transform:scaleX(1.000)">879</span></div>
<div class="x i" style="left:556.85px;top:411.46px;width:120px"><span style="transform:scaleX(0.970)">+ 11</span></div>
<div class="x t" style="left:622.50px;top:411.45px;width:120px"><span style="transform:scaleX(1.000)">3.328</span></div>
<div class="x rg" style="left:67.25px;top:425.20px;width:120px"><span style="transform:scaleX(0.995)">Basilicata</span></div>
<div class="x n" style="left:135.15px;top:425.21px;width:120px"><span style="transform:scaleX(0.965)">59</span></div>
<div class="x n" style="left:193.95px;top:425.21px;width:120px"><span style="transform:scaleX(0.965)">15</span></div>
<div class="x n" style="left:254.80px;top:425.21px;width:120px"><span style="transform:scaleX(0.965)">205</span></div>
<div class="x nb" style="left:318.75px;top:425.20px;width:120px"><span style="transform:scaleX(1.010)">279</span></div>
<div class="x g" style="left:377.10px;top:425.20px;width:120px"><span style="transform:scaleX(1.000)">14</span></div>
<div class="x r" style="left:427.75px;top:425.20px;width:120px"><span style="transform:scaleX(1.000)">15</span></div>
<div class="x o" style="left:486.85px;top:425.20px;width:120px"><span style="transform:scaleX(1.000)">308</span></div>
<div class="x i" style="left:556.85px;top:425.21px;width:120px"><span style="transform:scaleX(0.970)">+ 5</span></div>
<div class="x t" style="left:622.50px;top:425.20px;width:120px"><span style="transform:scaleX(1.000)">3.696</span></div>
<div class="x rg" style="left:67.25px;top:439.30px;width:120px"><span style="transform:scaleX(0.995)">Molise</span></div>
<div class="x n" style="left:135.15px;top:439.31px;width:120px"><span style="transform:scaleX(0.965)">28</span></div>
<div class="x n" style="left:193.95px;top:439.31px;width:120px"><span style="transform:scaleX(0.965)">4</span></div>
<div class="x n" style="left:254.80px;top:439.31px;width:120px"><span style="transform:scaleX(0.965)">161</span></div>
<div class="x nb" style="left:318.75px;top:439.30px;width:120px"><span style="transform:scaleX(1.010)">193</span></div>
<div class="x g" style="left:377.10px;top:439.30px;width:120px"><span style="transform:scaleX(1.000)">37</span></div>
<div class="x r" style="left:427.75px;top:439.30px;width:120px"><span style="transform:scaleX(1.000)">13</span></div>
<div class="x o" style="left:486.85px;top:439.30px;width:120px"><span style="transform:scaleX(1.000)">243</span></div>
<div class="x i" style="left:556.85px;top:439.31px;width:120px"><span style="transform:scaleX(0.970)">+ 9</span></div>
<div class="x t" style="left:622.50px;top:439.30px;width:120px"><span style="transform:scaleX(1.000)">2.069</span></div>
<div class="x rg" style="left:67.25px;top:453.50px;width:120px"><span style="transform:scaleX(0.995)">TOTALE</span></div>
<div class="x nb" style="left:135.15px;top:453.50px;width:120px"><span style="transform:scaleX(1.010)">28.242</span></div>
<div class="x nb" style="left:193.95px;top:453.50px;width:120px"><span style="transform:scaleX(1.010)">3.497</span></div>
<div class="x nb" style="left:254.80px;top:453.50px;width:120px"><span style="transform:scaleX(1.010)">66.534</span></div>
<div class="x nb" style="left:318.75px;top:453.50px;width:120px"><span style="transform:scaleX(1.010)">98.273</span></div>
<div class="x g nw" style="left:377.10px;top:453.50px;width:120px"><span style="transform:scaleX(1.000)">30.455</span></div>
<div class="x r nw" style="left:427.75px;top:453.50px;width:120px"><span style="transform:scaleX(1.000)">18.849</span></div>
<div class="x o" style="left:486.85px;top:453.50px;width:120px"><span style="transform:scaleX(1.000)">147.577</span></div>
<div class="x i" style="left:556.85px;top:453.51px;width:120px"><span style="transform:scaleX(0.970)">+ 3.951</span></div>
<div class="x t" style="left:622.50px;top:453.50px;width:120px"><span style="transform:scaleX(1.000)">906.864</span></div>
<div class="x s sy" style="left:165.25px;top:488.55px;width:120px"><span style="transform:scaleX(1.000)">ATTUALMENTE POSITIVI</span></div>
<div class="x s sy" style="left:254.85px;top:488.55px;width:120px"><span style="transform:scaleX(1.000)">98.273</span></div>
<div class="x s sg" style="left:165.25px;top:502.90px;width:120px"><span style="transform:scaleX(1.000)">TOTALE GUARITI</span></div>
<div class="x s sg" style="left:254.85px;top:502.90px;width:120px"><span style="transform:scaleX(1.000)">30.455</span></div>
<div class="x s sr" style="left:165.25px;top:517.25px;width:120px"><span style="transform:scaleX(1.000)">TOTALE DECEDUTI</span></div>
<div class="x s sr" style="left:254.85px;top:517.25px;width:120px"><span style="transform:scaleX(1.000)">18.849</span></div>
<div class="x s so" style="left:165.25px;top:531.40px;width:120px"><span style="transform:scaleX(1.000)">CASI TOTALI</span></div>
<div class="x s so" style="left:254.85px;top:531.40px;width:120px"><span style="transform:scaleX(1.000)">147.577</span></div>
<div class="x pt" style="left:248.60px;top:22.11px;width:300px"><span style="transform:scaleX(1.019)">PCM-DPC dati forniti dal Ministero della Salute</span></div>
</div>
</body></html>
